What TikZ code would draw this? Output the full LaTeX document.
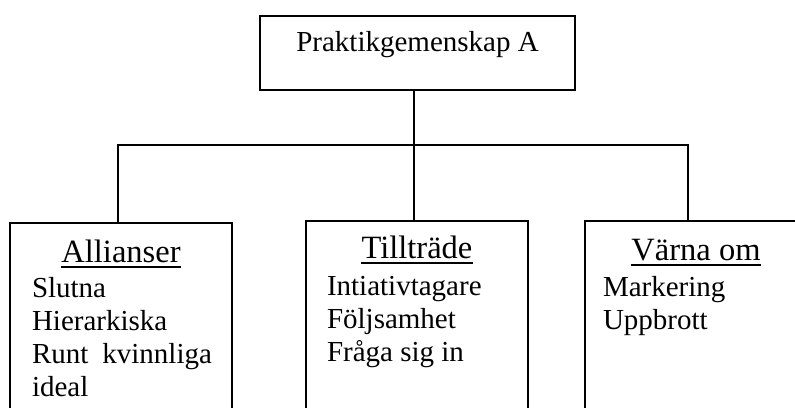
\documentclass[tikz,border=0pt]{standalone}
\usepackage{fontspec}
\setmainfont{Liberation Serif}
\usetikzlibrary{calc}
\begin{document}
\begin{tikzpicture}[x=1pt,y=-1pt,
  line width=1.5pt,
  every node/.style={font=\fontsize{29}{33}\selectfont},
  topbox/.style={draw,rectangle,minimum width=315pt,minimum height=74pt,
    inner sep=0pt,text height=20pt,text depth=24pt},
  childbox/.style={draw,rectangle,anchor=north,minimum width=222pt,
    minimum height=230pt,inner sep=0pt},
  title/.style={anchor=base,inner sep=0pt,font=\fontsize{32.5}{36}\selectfont},
  item/.style={anchor=base west,inner sep=0pt}]
\clip (0,0) rectangle (795,407);

% parent and the three child boxes (cut off at the page edge)
\node[topbox] (top) at (417.5,53) {Praktikgemenskap A};
\node[childbox] (c1) at (121,222) {};
\node[childbox] (c2) at (417,220) {};
\node[childbox] (c3) at (696,220) {};

% connector tree
\coordinate (bL) at (118,145);
\coordinate (hub) at (414,145);
\coordinate (bR) at (688,145);
\draw (top.south -| hub) -- (c2.north -| hub);
\draw (c1.north -| bL) -- (bL) -- (bR) -- (c3.north -| bR);

% headings with underline
\node[title] (t1) at ($(c1.north)+(0,40)$) {Allianser};
\node[title] (t2) at ($(c2.north)+(0,38)$) {Tillträde};
\node[title] (t3) at ($(c3.north)+(0,40)$) {Värna om};
\foreach \t in {t1,t2,t3}
  \draw[line width=1.4pt] ([yshift=-5pt]\t.base west) -- ([yshift=-5pt]\t.base east);

% item lists
\foreach \s [count=\i] in {Slutna,Hierarkiska,Runt\hspace{14pt}kvinnliga,ideal}
  \node[item] (a\i) at ($(c1.north west)+(22,42+33*\i)$) {\s};
\foreach \s [count=\i] in {Intiativtagare,Följsamhet,Fråga sig in}
  \node[item] (b\i) at ($(c2.north west)+(21,42+33*\i)$) {\s};
\foreach \s [count=\i] in {Markering,Uppbrott}
  \node[item] (d\i) at ($(c3.north west)+(18,43+33*\i)$) {\s};
\end{tikzpicture}
\end{document}
